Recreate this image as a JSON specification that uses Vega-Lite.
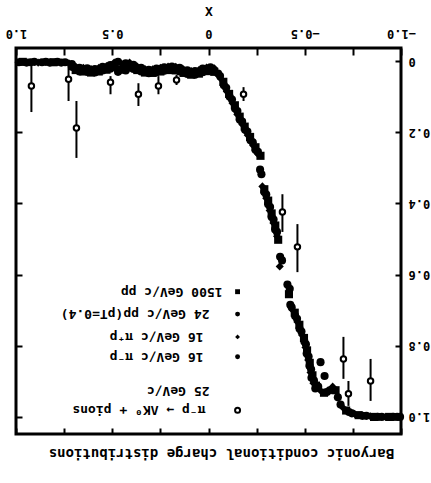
{
  "$schema": "https://vega.github.io/schema/vega-lite/v6.json",
  "background": "white",
  "padding": {"left": 3, "right": 3, "top": 3, "bottom": 1},
  "bounds": "flush",
  "spacing": 0,
  "config": {"view": {"stroke": "black", "strokeWidth": 3}, "font": "DejaVu Sans Mono"},
  "datasets": {
    "band": [
      {"x":0.985,"y":0.003,"s":"pp24"},{"x":0.965,"y":0.002,"s":"pp1500"},{"x":0.945,"y":0.004,"s":"pp24"},{"x":0.925,"y":0.003,"s":"pim16"},
      {"x":0.905,"y":0.002,"s":"pp24"},{"x":0.885,"y":0.004,"s":"pip16"},{"x":0.865,"y":0.003,"s":"pp24"},{"x":0.845,"y":0.002,"s":"pim16"},
      {"x":0.825,"y":0.004,"s":"pp24"},{"x":0.805,"y":0.003,"s":"pp1500"},{"x":0.785,"y":0.002,"s":"pp24"},{"x":0.765,"y":0.004,"s":"pim16"},
      {"x":0.745,"y":0.003,"s":"pp24"},{"x":0.725,"y":0.006,"s":"pip16"},
      {"x":0.71,"y":0.008,"s":"pp24"},{"x":0.71,"y":0.016,"s":"pim16"},
      {"x":0.69,"y":0.015,"s":"pip16"},{"x":0.69,"y":0.025,"s":"pp1500"},
      {"x":0.67,"y":0.019,"s":"pp24"},{"x":0.67,"y":0.029,"s":"pim16"},
      {"x":0.65,"y":0.019,"s":"pip16"},{"x":0.65,"y":0.029,"s":"pp1500"},
      {"x":0.63,"y":0.020,"s":"pp24"},{"x":0.63,"y":0.030,"s":"pim16"},
      {"x":0.61,"y":0.022,"s":"pip16"},{"x":0.61,"y":0.032,"s":"pp1500"},
      {"x":0.59,"y":0.022,"s":"pp24"},{"x":0.59,"y":0.032,"s":"pim16"},
      {"x":0.57,"y":0.019,"s":"pip16"},{"x":0.57,"y":0.029,"s":"pp1500"},
      {"x":0.55,"y":0.016,"s":"pp24"},{"x":0.55,"y":0.026,"s":"pim16"},
      {"x":0.53,"y":0.014,"s":"pip16"},{"x":0.53,"y":0.024,"s":"pp1500"},
      {"x":0.51,"y":0.011,"s":"pp24"},{"x":0.51,"y":0.021,"s":"pim16"},
      {"x":0.49,"y":0.004,"s":"pip16"},{"x":0.49,"y":0.016,"s":"pp1500"},
      {"x":0.47,"y":0.002,"s":"pp24"},{"x":0.47,"y":0.030,"s":"pim16"},
      {"x":0.45,"y":0.008,"s":"pip16"},{"x":0.45,"y":0.024,"s":"pp1500"},
      {"x":0.43,"y":0.006,"s":"pp24"},{"x":0.43,"y":0.026,"s":"pim16"},
      {"x":0.41,"y":0.004,"s":"pip16"},{"x":0.41,"y":0.018,"s":"pp1500"},
      {"x":0.39,"y":0.010,"s":"pp24"},{"x":0.39,"y":0.022,"s":"pim16"},
      {"x":0.37,"y":0.015,"s":"pip16"},{"x":0.37,"y":0.025,"s":"pp1500"},
      {"x":0.35,"y":0.019,"s":"pp24"},{"x":0.35,"y":0.029,"s":"pim16"},
      {"x":0.33,"y":0.022,"s":"pip16"},{"x":0.33,"y":0.032,"s":"pp1500"},
      {"x":0.31,"y":0.024,"s":"pp24"},{"x":0.31,"y":0.034,"s":"pim16"},
      {"x":0.29,"y":0.023,"s":"pip16"},{"x":0.29,"y":0.033,"s":"pp1500"},
      {"x":0.27,"y":0.021,"s":"pp24"},{"x":0.27,"y":0.031,"s":"pim16"},
      {"x":0.25,"y":0.019,"s":"pip16"},{"x":0.25,"y":0.029,"s":"pp1500"},
      {"x":0.23,"y":0.017,"s":"pp24"},{"x":0.23,"y":0.027,"s":"pim16"},
      {"x":0.21,"y":0.015,"s":"pip16"},{"x":0.21,"y":0.025,"s":"pp1500"},
      {"x":0.19,"y":0.015,"s":"pp24"},{"x":0.19,"y":0.025,"s":"pim16"},
      {"x":0.17,"y":0.016,"s":"pip16"},{"x":0.17,"y":0.026,"s":"pp1500"},
      {"x":0.15,"y":0.019,"s":"pp24"},{"x":0.15,"y":0.029,"s":"pim16"},
      {"x":0.13,"y":0.023,"s":"pip16"},{"x":0.13,"y":0.033,"s":"pp1500"},
      {"x":0.11,"y":0.026,"s":"pp24"},{"x":0.11,"y":0.036,"s":"pim16"},
      {"x":0.09,"y":0.028,"s":"pip16"},{"x":0.09,"y":0.038,"s":"pp1500"},
      {"x":0.07,"y":0.028,"s":"pp24"},{"x":0.07,"y":0.038,"s":"pim16"},
      {"x":0.05,"y":0.025,"s":"pip16"},{"x":0.05,"y":0.035,"s":"pp1500"},
      {"x":0.03,"y":0.021,"s":"pp24"},{"x":0.03,"y":0.031,"s":"pim16"},
      {"x":0.01,"y":0.018,"s":"pip16"},{"x":0.01,"y":0.028,"s":"pp1500"},
      {"x":-0.01,"y":0.017,"s":"pp24"},{"x":-0.01,"y":0.027,"s":"pim16"},
      {"x":-0.03,"y":0.020,"s":"pip16"},{"x":-0.03,"y":0.030,"s":"pp1500"},
      {"x":-0.05,"y":0.035,"s":"pp24"},{"x":-0.06,"y":0.042,"s":"pim16"},
      {"x":-0.065,"y":0.05,"s":"pip16"},{"x":-0.077,"y":0.058,"s":"pp1500"},
      {"x":-0.08,"y":0.068,"s":"pp24"},{"x":-0.092,"y":0.075,"s":"pim16"},
      {"x":-0.095,"y":0.085,"s":"pip16"},{"x":-0.107,"y":0.092,"s":"pp1500"},
      {"x":-0.11,"y":0.10,"s":"pp24"},{"x":-0.122,"y":0.108,"s":"pim16"},
      {"x":-0.125,"y":0.118,"s":"pip16"},{"x":-0.137,"y":0.124,"s":"pp1500"},
      {"x":-0.138,"y":0.133,"s":"pp24"},{"x":-0.15,"y":0.14,"s":"pim16"},
      {"x":-0.15,"y":0.15,"s":"pip16"},{"x":-0.162,"y":0.156,"s":"pp1500"},
      {"x":-0.163,"y":0.165,"s":"pp24"},{"x":-0.175,"y":0.17,"s":"pim16"},
      {"x":-0.176,"y":0.178,"s":"pip16"},{"x":-0.188,"y":0.184,"s":"pp1500"},
      {"x":-0.19,"y":0.193,"s":"pp24"},{"x":-0.202,"y":0.198,"s":"pim16"},
      {"x":-0.204,"y":0.208,"s":"pip16"},{"x":-0.216,"y":0.213,"s":"pp1500"},
      {"x":-0.218,"y":0.222,"s":"pp24"},{"x":-0.23,"y":0.228,"s":"pim16"},
      {"x":-0.232,"y":0.237,"s":"pip16"},{"x":-0.244,"y":0.242,"s":"pp1500"},
      {"x":-0.245,"y":0.25,"s":"pp24"},{"x":-0.257,"y":0.255,"s":"pim16"},
      {"x":-0.258,"y":0.262,"s":"pip16"},{"x":-0.27,"y":0.266,"s":"pp1500"},
      {"x":-0.268,"y":0.305,"s":"pp24"},{"x":-0.275,"y":0.318,"s":"pim16"},
      {"x":-0.28,"y":0.352,"s":"pip16"},{"x":-0.29,"y":0.36,"s":"pp1500"},
      {"x":-0.29,"y":0.368,"s":"pp24"},{"x":-0.3,"y":0.375,"s":"pim16"},
      {"x":-0.3,"y":0.385,"s":"pip16"},{"x":-0.31,"y":0.392,"s":"pp1500"},
      {"x":-0.31,"y":0.402,"s":"pp24"},{"x":-0.32,"y":0.41,"s":"pim16"},
      {"x":-0.318,"y":0.42,"s":"pip16"},{"x":-0.328,"y":0.428,"s":"pp1500"},
      {"x":-0.328,"y":0.438,"s":"pp24"},{"x":-0.338,"y":0.445,"s":"pim16"},
      {"x":-0.337,"y":0.455,"s":"pip16"},{"x":-0.347,"y":0.462,"s":"pp1500"},
      {"x":-0.346,"y":0.473,"s":"pp24"},{"x":-0.356,"y":0.48,"s":"pim16"},
      {"x":-0.356,"y":0.492,"s":"pip16"},{"x":-0.362,"y":0.502,"s":"pp1500"},
      {"x":-0.372,"y":0.55,"s":"pp24"},{"x":-0.382,"y":0.56,"s":"pim16"},
      {"x":-0.37,"y":0.577,"s":"pip16"},
      {"x":-0.41,"y":0.628,"s":"pp24"},{"x":-0.422,"y":0.64,"s":"pim16"},{"x":-0.418,"y":0.655,"s":"pp1500"},
      {"x":-0.425,"y":0.685,"s":"pp24"},{"x":-0.432,"y":0.692,"s":"pim16"},
      {"x":-0.438,"y":0.70,"s":"pip16"},{"x":-0.448,"y":0.707,"s":"pp1500"},
      {"x":-0.45,"y":0.716,"s":"pp24"},{"x":-0.46,"y":0.724,"s":"pim16"},
      {"x":-0.462,"y":0.733,"s":"pip16"},{"x":-0.472,"y":0.741,"s":"pp1500"},
      {"x":-0.473,"y":0.752,"s":"pp24"},{"x":-0.483,"y":0.76,"s":"pim16"},
      {"x":-0.486,"y":0.77,"s":"pip16"},{"x":-0.496,"y":0.778,"s":"pp1500"},
      {"x":-0.498,"y":0.788,"s":"pp24"},{"x":-0.506,"y":0.796,"s":"pim16"},
      {"x":-0.504,"y":0.805,"s":"pip16"},{"x":-0.512,"y":0.813,"s":"pp1500"},
      {"x":-0.51,"y":0.822,"s":"pp24"},{"x":-0.52,"y":0.83,"s":"pim16"},
      {"x":-0.518,"y":0.84,"s":"pip16"},{"x":-0.526,"y":0.848,"s":"pp1500"},
      {"x":-0.525,"y":0.857,"s":"pp24"},{"x":-0.533,"y":0.866,"s":"pim16"},
      {"x":-0.53,"y":0.875,"s":"pip16"},{"x":-0.54,"y":0.883,"s":"pp1500"},
      {"x":-0.535,"y":0.89,"s":"pp24"},{"x":-0.548,"y":0.898,"s":"pim16"},
      {"x":-0.545,"y":0.905,"s":"pip16"},{"x":-0.558,"y":0.912,"s":"pp1500"},
      {"x":-0.555,"y":0.92,"s":"pp24"},{"x":-0.57,"y":0.915,"s":"pim16"},
      {"x":-0.585,"y":0.928,"s":"pip16"},{"x":-0.6,"y":0.932,"s":"pp1500"},
      {"x":-0.615,"y":0.93,"s":"pp24"},{"x":-0.63,"y":0.925,"s":"pim16"},
      {"x":-0.645,"y":0.915,"s":"pip16"},{"x":-0.66,"y":0.925,"s":"pp1500"},
      {"x":-0.672,"y":0.945,"s":"pp24"},{"x":-0.686,"y":0.965,"s":"pim16"},
      {"x":-0.70,"y":0.975,"s":"pip16"},{"x":-0.715,"y":0.982,"s":"pp1500"},
      {"x":-0.73,"y":0.986,"s":"pp24"},{"x":-0.745,"y":0.99,"s":"pim16"},
      {"x":-0.76,"y":0.992,"s":"pip16"},{"x":-0.78,"y":0.995,"s":"pp1500"},
      {"x":-0.80,"y":0.997,"s":"pp24"},{"x":-0.82,"y":0.997,"s":"pim16"},
      {"x":-0.84,"y":0.998,"s":"pip16"},{"x":-0.86,"y":1.0,"s":"pp1500"},
      {"x":-0.88,"y":1.0,"s":"pp24"},{"x":-0.90,"y":1.0,"s":"pim16"},
      {"x":-0.92,"y":1.0,"s":"pip16"},{"x":-0.94,"y":1.0,"s":"pp1500"},
      {"x":-0.96,"y":1.0,"s":"pp24"},{"x":-0.98,"y":1.0,"s":"pim16"},
      {"x":-0.995,"y":1.0,"s":"pp24"},
      {"x":-0.582,"y":0.846,"s":"pp24"},{"x":-0.603,"y":0.885,"s":"pim16"}
    ],
    "lam": [
      {"x":0.92,"y":0.070,"lo":0.0,"hi":0.143},
      {"x":0.727,"y":0.051,"lo":0.0,"hi":0.112},
      {"x":0.686,"y":0.188,"lo":0.112,"hi":0.272},
      {"x":0.509,"y":0.059,"lo":0.042,"hi":0.093},
      {"x":0.364,"y":0.093,"lo":0.062,"hi":0.126},
      {"x":0.26,"y":0.070,"lo":0.042,"hi":0.093},
      {"x":0.166,"y":0.053,"lo":0.039,"hi":0.067},
      {"x":-0.182,"y":0.093,"lo":0.073,"hi":0.112},
      {"x":-0.384,"y":0.424,"lo":0.374,"hi":0.48},
      {"x":-0.462,"y":0.522,"lo":0.458,"hi":0.593},
      {"x":-0.701,"y":0.837,"lo":0.775,"hi":0.893},
      {"x":-0.727,"y":0.935,"lo":0.899,"hi":0.969},
      {"x":-0.842,"y":0.899,"lo":0.837,"hi":0.955}
    ],
    "legend": [
      {"s":"lam25","label":"π⁻p → ΛK⁰ + pions","tx":0.016,"sx":-0.151,"y":0.981},
      {"s":"none","label":"25 GeV/c","tx":-0.005,"sx":-0.151,"y":0.927},
      {"s":"pim16","label":"16 GeV/c π⁻p","tx":0.026,"sx":-0.151,"y":0.831},
      {"s":"pip16","label":"16 GeV/c π⁺p","tx":0.026,"sx":-0.151,"y":0.775},
      {"s":"pp24","label":"24 GeV/c pp(pT=0.4)","tx":-0.005,"sx":-0.151,"y":0.711},
      {"s":"pp1500","label":"1500 GeV/c pp","tx":-0.073,"sx":-0.151,"y":0.648}
    ]
  },
  "vconcat": [
    {
      "width": 385,
      "height": 386,
      "resolve": {"axis": {"x": "independent", "y": "independent"}},
      "layer": [
        {
          "data": {"name": "lam"},
          "mark": {"type": "rule", "strokeWidth": 2, "color": "black"},
          "encoding": {
            "x": {"field": "x", "type": "quantitative",
              "scale": {"domain": [-1, 1], "reverse": true, "nice": false, "zero": false},
              "axis": {"orient": "bottom", "labels": false, "title": null, "domain": false, "grid": false,
                "values": [-1,-0.75,-0.5,-0.25,0,0.25,0.5,0.75,1], "tickSize": -6, "tickWidth": 2, "tickColor": "black"}},
            "y": {"field": "lo", "type": "quantitative",
              "scale": {"domain": [-0.037, 1.048], "reverse": true, "nice": false, "zero": false},
              "axis": {"orient": "left", "labels": false, "title": null, "domain": false, "grid": false,
                "values": [0,0.2,0.4,0.6,0.8,1], "tickSize": -6, "tickWidth": 2, "tickColor": "black"}},
            "y2": {"field": "hi"}
          }
        },
        {
          "data": {"name": "band"},
          "mark": {"type": "point", "filled": true, "size": 66, "color": "black", "opacity": 1, "strokeWidth": 0},
          "encoding": {
            "x": {"field": "x", "type": "quantitative",
              "scale": {"domain": [-1, 1], "reverse": true, "nice": false, "zero": false},
              "axis": {"orient": "top", "title": "X", "titleFont": "DejaVu Sans Mono", "titleFontSize": 13, "titleFontWeight": "bold", "titleColor": "black", "titlePadding": 9,
                "domain": false, "grid": false,
                "values": [-1,-0.75,-0.5,-0.25,0,0.25,0.5,0.75,1],
                "labelExpr": "datum.value == 0 ? '0' : (abs(datum.value * 2) % 1 == 0 ? format(datum.value, '.1f') : '')",
                "labelAngle": 180, "labelAlign": "center", "labelBaseline": "top", "labelPadding": 17,
                "labelFont": "DejaVu Sans Mono", "labelFontSize": 12, "labelFontWeight": "bold", "labelColor": "black",
                "labelFlush": false, "labelOverlap": false,
                "tickSize": -7, "tickWidth": 2, "tickColor": "black"}},
            "y": {"field": "y", "type": "quantitative",
              "scale": {"domain": [-0.037, 1.048], "reverse": true, "nice": false, "zero": false},
              "axis": {"orient": "right", "title": null, "domain": false, "grid": false,
                "values": [0,0.2,0.4,0.6,0.8,1],
                "labelExpr": "datum.value == 0 ? '0' : format(datum.value, '.1f')",
                "labelAngle": 180, "labelAlign": "right", "labelBaseline": "middle", "labelPadding": 13,
                "labelFont": "DejaVu Sans Mono", "labelFontSize": 12, "labelFontWeight": "bold", "labelColor": "black",
                "labelFlush": false, "labelOverlap": false,
                "tickSize": -6, "tickWidth": 2, "tickColor": "black"}},
            "shape": {"field": "s", "type": "nominal",
              "scale": {"domain": ["pim16", "pip16", "pp24", "pp1500"], "range": ["circle", "diamond", "circle", "square"]},
              "legend": null}
          }
        },
        {
          "data": {"name": "lam"},
          "mark": {"type": "point", "shape": "circle", "filled": true, "fill": "white", "stroke": "black", "strokeWidth": 2, "size": 30, "opacity": 1},
          "encoding": {
            "x": {"field": "x", "type": "quantitative", "scale": {"domain": [-1, 1], "reverse": true, "nice": false, "zero": false}, "axis": null},
            "y": {"field": "y", "type": "quantitative", "scale": {"domain": [-0.037, 1.048], "reverse": true, "nice": false, "zero": false}, "axis": null}
          }
        },
        {
          "data": {"name": "legend"},
          "transform": [{"filter": "datum.s != 'lam25' && datum.s != 'none'"}],
          "mark": {"type": "point", "filled": true, "size": 24, "color": "black", "opacity": 1, "strokeWidth": 0},
          "encoding": {
            "x": {"field": "sx", "type": "quantitative", "scale": {"domain": [-1, 1], "reverse": true, "nice": false, "zero": false}, "axis": null},
            "y": {"field": "y", "type": "quantitative", "scale": {"domain": [-0.037, 1.048], "reverse": true, "nice": false, "zero": false}, "axis": null},
            "shape": {"field": "s", "type": "nominal", "legend": null}
          }
        },
        {
          "data": {"name": "legend"},
          "transform": [{"filter": "datum.s == 'lam25'"}],
          "mark": {"type": "point", "shape": "circle", "filled": true, "fill": "white", "stroke": "black", "strokeWidth": 2, "size": 25, "opacity": 1},
          "encoding": {
            "x": {"field": "sx", "type": "quantitative", "scale": {"domain": [-1, 1], "reverse": true, "nice": false, "zero": false}, "axis": null},
            "y": {"field": "y", "type": "quantitative", "scale": {"domain": [-0.037, 1.048], "reverse": true, "nice": false, "zero": false}, "axis": null}
          }
        },
        {
          "data": {"name": "legend"},
          "mark": {"type": "text", "angle": 180, "align": "left", "baseline": "middle", "font": "DejaVu Sans Mono", "fontWeight": "bold", "fontSize": 13, "color": "black"},
          "encoding": {
            "x": {"field": "tx", "type": "quantitative", "scale": {"domain": [-1, 1], "reverse": true, "nice": false, "zero": false}, "axis": null},
            "y": {"field": "y", "type": "quantitative", "scale": {"domain": [-0.037, 1.048], "reverse": true, "nice": false, "zero": false}, "axis": null},
            "text": {"field": "label"}
          }
        }
      ]
    },
    {
      "width": 385,
      "height": 46,
      "data": {"values": [{"t": "Baryonic conditional charge distributions"}]},
      "mark": {"type": "text", "angle": 180, "align": "center", "baseline": "middle", "font": "DejaVu Sans Mono", "fontWeight": "bold", "fontSize": 14, "color": "black", "dx": -13, "dy": 4},
      "encoding": {"text": {"field": "t"}}
    }
  ]
}
